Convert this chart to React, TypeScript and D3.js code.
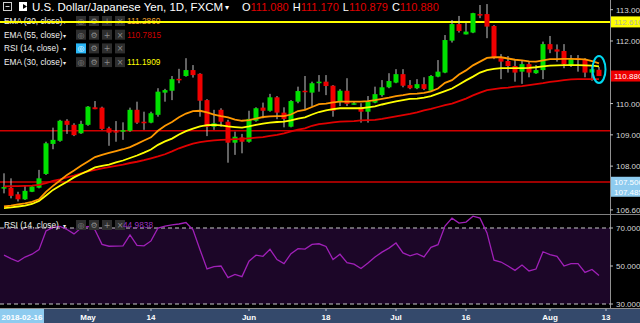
import React from "react";
import * as d3 from "d3";

const W = 640;
const H = 323;

// trading days shown (weekdays) Apr 13 2018 .. Aug 13 2018
const START_DATE = "2018-04-13";
const END_DATE = "2018-08-13";

const openP = [107.31,107.31,107.10,106.94,107.18,107.31,107.75,108.71,108.81,109.45,109.32,109.05,109.32,109.88,109.87,109.21,109.12,109.10,109.13,109.80,109.42,109.39,109.64,110.35,110.41,110.79,110.88,111.07,110.95,110.11,109.26,109.80,109.42,108.75,108.92,108.78,109.45,109.87,109.77,110.20,109.71,109.26,110.06,110.41,110.35,110.65,110.70,110.57,110.06,110.41,109.98,109.88,109.74,110.03,110.27,110.52,110.67,110.94,110.59,110.49,110.62,110.41,110.86,110.99,112.01,112.54,112.21,112.27,112.86,112.86,112.48,111.45,111.36,111.20,111.02,111.26,110.97,111.07,111.90,111.73,111.68,111.23,111.45,111.42,110.99,111.08];
const highP = [107.77,107.61,107.18,107.37,107.37,107.88,108.78,109.23,109.48,109.50,109.37,109.45,109.92,110.08,109.90,109.26,109.44,109.40,109.87,110.06,109.74,109.74,110.49,110.47,110.88,111.11,111.45,111.23,110.97,110.14,109.80,109.85,109.48,109.10,109.03,109.77,109.88,110.03,110.31,110.24,109.88,110.11,110.54,110.88,110.70,110.91,110.91,110.59,110.46,110.81,110.06,110.01,110.24,110.54,110.75,110.97,111.10,111.10,110.75,110.78,110.84,110.91,111.39,112.19,112.67,112.80,112.58,112.90,113.15,113.18,112.51,111.58,111.52,111.42,111.39,111.34,111.23,111.98,112.16,111.89,111.90,111.55,111.55,111.45,111.21,111.17];
const lowP = [107.13,106.97,106.87,106.92,107.17,107.29,107.72,108.54,108.78,109.03,108.96,109.03,109.29,109.82,109.16,108.65,108.78,108.84,109.10,109.35,109.16,109.37,109.58,110.06,110.11,110.65,110.86,110.83,109.58,108.96,109.16,109.26,108.11,108.36,108.41,108.75,109.42,109.53,109.74,109.50,109.24,109.24,110.01,109.80,109.90,110.38,110.27,109.58,109.92,109.92,109.96,109.39,109.39,110.01,110.22,110.49,110.65,110.52,110.46,110.46,110.43,110.38,110.84,110.97,111.95,112.27,112.21,112.25,112.73,112.09,111.42,110.78,110.99,110.70,110.63,110.84,110.95,110.78,111.61,111.34,111.13,111.17,111.02,110.84,110.73,110.879];
const closeP = [107.33,107.05,106.94,107.21,107.35,107.61,108.73,108.84,109.45,109.32,108.99,109.35,109.90,109.82,109.19,109.07,109.10,109.15,109.80,109.39,109.37,109.69,110.38,110.43,110.78,110.76,111.07,110.91,110.09,109.26,109.37,109.42,108.75,108.94,108.78,109.51,109.85,109.77,110.20,109.71,109.51,110.08,110.40,110.38,110.65,110.70,110.56,109.77,110.41,109.99,110.01,109.74,110.06,110.30,110.52,110.72,110.94,110.57,110.49,110.62,110.47,110.88,111.02,112.03,112.54,112.32,112.30,112.89,112.83,112.46,111.45,111.34,111.20,110.99,111.26,110.99,111.07,111.90,111.73,111.66,111.26,111.42,111.39,110.99,111.10,110.88];

const ema20 = [106.71,106.74,106.78,106.81,106.86,106.94,107.18,107.37,107.54,107.72,107.86,108.01,108.15,108.29,108.36,108.42,108.48,108.54,108.61,108.71,108.82,108.92,109.13,109.29,109.41,109.56,109.68,109.76,109.77,109.72,109.65,109.60,109.56,109.49,109.45,109.47,109.52,109.57,109.59,109.60,109.60,109.65,109.76,109.80,109.89,109.98,110.00,110.04,110.06,110.06,110.06,110.06,110.08,110.11,110.15,110.19,110.24,110.27,110.31,110.32,110.34,110.39,110.48,110.66,110.75,110.93,111.06,111.22,111.34,111.46,111.48,111.48,111.44,111.40,111.38,111.35,111.34,111.38,111.42,111.42,111.43,111.43,111.42,111.41,111.36,111.286];
const ema30 = [106.66,106.68,106.71,106.74,106.79,106.89,107.06,107.24,107.37,107.50,107.64,107.75,107.85,107.96,108.01,108.05,108.12,108.18,108.26,108.34,108.43,108.53,108.68,108.79,108.88,109.01,109.12,109.20,109.27,109.31,109.32,109.30,109.27,109.25,109.23,109.27,109.32,109.36,109.39,109.41,109.42,109.46,109.52,109.56,109.65,109.73,109.78,109.82,109.85,109.85,109.85,109.85,109.88,109.91,109.97,110.02,110.07,110.11,110.15,110.16,110.19,110.24,110.32,110.40,110.48,110.61,110.74,110.86,110.99,111.07,111.11,111.13,111.13,111.13,111.13,111.14,111.16,111.19,111.21,111.22,111.23,111.23,111.23,111.22,111.21,111.191];
const ema55 = [107.35,107.36,107.36,107.37,107.38,107.40,107.46,107.53,107.58,107.64,107.70,107.77,107.83,107.88,107.93,107.97,108.01,108.05,108.10,108.14,108.19,108.25,108.31,108.38,108.47,108.57,108.65,108.72,108.77,108.80,108.82,108.84,108.85,108.86,108.87,108.89,108.91,108.93,108.97,109.00,109.05,109.11,109.17,109.21,109.29,109.34,109.37,109.40,109.42,109.43,109.44,109.46,109.47,109.48,109.51,109.55,109.59,109.63,109.67,109.72,109.78,109.83,109.89,109.95,110.00,110.08,110.16,110.26,110.35,110.43,110.46,110.49,110.51,110.54,110.56,110.59,110.62,110.65,110.69,110.72,110.75,110.77,110.78,110.78,110.78,110.78];
const rsi14 = [55.7,53.9,52.3,54.7,56.2,58.6,68.4,70.3,70.8,69.2,66.9,70.0,70.8,69.0,61.4,60.4,60.5,60.6,66.4,60.9,60.6,63.2,70.0,71.0,71.6,72.1,72.9,69.0,58.6,48.5,49.7,50.0,43.9,45.6,44.4,52.5,55.7,55.1,58.8,53.4,51.3,56.5,59.1,58.9,61.4,61.7,60.3,53.4,56.2,51.8,51.0,48.7,51.6,54.7,57.3,59.4,62.1,56.9,55.3,56.5,54.8,59.8,61.2,71.0,75.2,72.6,73.1,76.2,75.2,67.4,53.1,52.1,50.0,47.7,50.5,47.4,48.4,57.5,56.0,55.1,50.0,51.3,51.3,46.6,48.2,44.98];

// visible price-axis tick labels (111 and 107 sit under the price / level boxes)
const priceTicks = [113, 112, 110, 109, 108, 106.6];
const rsiTicks = [70, 50, 30];
const dateTickKeys = ["2018-05-01", "2018-05-14", "2018-06-01", "2018-06-18", "2018-07-02", "2018-07-16", "2018-08-01", "2018-08-13"];
const dateTickLabels = ["May", "14", "Jun", "18", "Jul", "16", "Aug", "13"];

const levelValues = [112.61, 109.13, 107.49];
const levelColors = ["#ffff00", "#d00000", "#d00000"];

const headerOHLC = ["111.080", "111.170", "110.879", "110.880"];
const legendNames = ["EMA (20, close)", "EMA (55, close)", "RSI (14, close)", "EMA (30, close)"];
const legendValues = ["111.2860", "110.7815", "", "111.1909"];
const legendColors = ["#f0a030", "#cc0000", "", "#ffff00"];
const rsiValueText = "44.9838";

const FONT = "'Liberation Sans', Arial, sans-serif";

function Icons({ x, y, active }: { x: number; y: number; active?: boolean }) {
  const glyphs = ["◎", "⚙", "+", "×"];
  return (
    <g>
      {glyphs.map((g, i) => (
        <g key={i} transform={`translate(${x + i * 13},${y})`}>
          <rect x={0} y={-5} width={10} height={10} fill={active && i === 0 ? "#29b6f6" : "#2e2e2e"} />
          <text x={5} y={3} fontSize={8} textAnchor="middle" fill={active && i === 0 ? "#ffffff" : "#8a8a8a"} fontFamily="'DejaVu Sans', sans-serif">
            {g}
          </text>
        </g>
      ))}
    </g>
  );
}

export default function App() {
  const fmt = d3.timeFormat("%Y-%m-%d");
  const parse = d3.timeParse("%Y-%m-%d");
  const days = d3.timeDay
    .range(parse(START_DATE)!, d3.timeDay.offset(parse(END_DATE)!, 1))
    .filter((d) => d.getDay() !== 0 && d.getDay() !== 6);
  const keys = days.map(fmt);

  const plotRight = 610;
  const priceBottom = 214;
  const x = d3.scalePoint<string>().domain(keys).range([4, 606]);
  const y = d3.scaleLinear().domain([106.47, 113.31]).range([priceBottom, 0]);
  const yr = d3.scaleLinear().domain([30, 70]).range([304, 228]);

  const xi = (i: number) => x(keys[i]) as number;
  const line = d3.line<number>().x((_, i) => xi(i)).y((d) => y(d));
  const rsiLine = d3.line<number>().x((_, i) => xi(i)).y((d) => yr(d));

  const bodyW = 5;

  return (
    <svg width={W} height={H} style={{ position: "fixed", left: 0, top: 0, background: "#000" }} fontFamily={FONT}>
      <defs>
        <clipPath id="pricePane">
          <rect x={0} y={0} width={plotRight} height={priceBottom} />
        </clipPath>
        <clipPath id="rsiPane">
          <rect x={0} y={priceBottom + 1} width={plotRight} height={308 - priceBottom - 1} />
        </clipPath>
      </defs>
      <rect x={0} y={0} width={W} height={H} fill="#000" />

      {/* RSI pane band */}
      <rect x={0} y={yr(70)} width={plotRight} height={yr(30) - yr(70)} fill="#1c0628" />

      {/* header */}
      <g>
        <rect x={3.5} y={2.5} width={8} height={8} fill="none" stroke="#d0d0d0" strokeWidth={1} />
        <line x1={5.5} x2={9.5} y1={6.5} y2={6.5} stroke="#d0d0d0" />
        <rect x={19} y={2} width={8} height={9} fill="#ffffff" />
        <path d="M23,4 L27,6.5 L23,9 Z" fill="#000" />
        <text x={32} y={10.5} fontSize={11.5} fill="#ffffff">
          U.S. Dollar/Japanese Yen, 1D, FXCM
        </text>
        <text x={225} y={10} fontSize={8} fill="#ffffff" fontFamily="'DejaVu Sans', sans-serif">▾</text>
        <text x={242} y={10.5} fontSize={11} fill="#ffffff">
          O<tspan fill="#e00000">{headerOHLC[0]}</tspan>
          <tspan dx={4}>H</tspan><tspan fill="#e00000">{headerOHLC[1]}</tspan>
          <tspan dx={4}>L</tspan><tspan fill="#e00000">{headerOHLC[2]}</tspan>
          <tspan dx={4}>C</tspan><tspan fill="#e00000">{headerOHLC[3]}</tspan>
        </text>
      </g>

      {/* legend */}
      {legendNames.map((n, i) => {
        const ly = 21 + i * 13.7;
        return (
          <g key={n}>
            <text x={4} y={ly + 3} fontSize={8.3} fill="#f0f0f0">{n}</text>
            <text x={63} y={ly + 3} fontSize={6} fill="#f0f0f0" fontFamily="'DejaVu Sans', sans-serif">▾</text>
            <Icons x={76} y={ly} active={i === 2} />
            {legendValues[i] && (
              <text x={127} y={ly + 3} fontSize={8.3} fill={legendColors[i]}>{legendValues[i]}</text>
            )}
          </g>
        );
      })}

      {/* price pane */}
      <g clipPath="url(#pricePane)">
        {levelValues.map((v, i) => (
          <line key={i} x1={0} x2={plotRight} y1={y(v)} y2={y(v)} stroke={levelColors[i]} strokeWidth={i === 0 ? 2 : 1.5} />
        ))}
        {openP.map((o, i) => {
          const c = closeP[i];
          const up = c >= o;
          const cx = xi(i);
          const top = y(Math.max(o, c));
          const bot = y(Math.min(o, c));
          return (
            <g key={i}>
              <line x1={cx} x2={cx} y1={y(highP[i])} y2={y(lowP[i])} stroke="#c4c4c4" strokeWidth={1} />
              <rect x={cx - bodyW / 2} y={top} width={bodyW} height={Math.max(1.5, bot - top)} fill={up ? "#00e000" : "#f00000"} />
            </g>
          );
        })}
        <path d={line(ema55) || ""} fill="none" stroke="#e00000" strokeWidth={1.8} />
        <path d={line(ema30) || ""} fill="none" stroke="#ffff00" strokeWidth={1.8} />
        <path d={line(ema20) || ""} fill="none" stroke="#ff9800" strokeWidth={1.8} />
        <ellipse cx={xi(85)} cy={y((highP[85] + lowP[85]) / 2) - 2} rx={6.5} ry={13.5} fill="none" stroke="#00d8f0" strokeWidth={2} />
      </g>

      {/* RSI pane */}
      <g clipPath="url(#rsiPane)">
        {[70, 30].map((v) => (
          <line key={v} x1={0} x2={plotRight} y1={yr(v)} y2={yr(v)} stroke="#c8c8c8" strokeWidth={1} strokeDasharray="4,3" />
        ))}
        <path d={rsiLine(rsi14) || ""} fill="none" stroke="#a020b8" strokeWidth={1.3} />
      </g>
      <g>
        <text x={4} y={228} fontSize={8.3} fill="#f0f0f0">RSI (14, close)</text>
        <text x={63} y={228} fontSize={6} fill="#f0f0f0" fontFamily="'DejaVu Sans', sans-serif">▾</text>
        <Icons x={76} y={225} />
        <text x={123} y={228} fontSize={8.3} fill="#9b30c0">{rsiValueText}</text>
      </g>

      {/* separators */}
      <line x1={0} x2={W} y1={priceBottom + 0.5} y2={priceBottom + 0.5} stroke="#808080" strokeWidth={1} />
      <line x1={plotRight + 0.5} x2={plotRight + 0.5} y1={0} y2={309} stroke="#909090" strokeWidth={1} />

      {/* price axis */}
      {priceTicks.map((t) => (
        <g key={t}>
          <line x1={plotRight} x2={plotRight + 3} y1={y(t)} y2={y(t)} stroke="#c0c0c0" />
          <text x={616} y={y(t) + 3} fontSize={8} fill="#d8d8d8">{t.toFixed(3)}</text>
        </g>
      ))}
      {/* level labels */}
      <rect x={611} y={y(112.61) - 5.5} width={29} height={11} fill="#ffff00" />
      <text x={614} y={y(112.61) + 3} fontSize={8} fill="#b0b0a0">112.610</text>
      <rect x={611} y={y(110.88) - 5.5} width={29} height={11} fill="#ee0000" />
      <text x={614} y={y(110.88) + 3} fontSize={8} fill="#ffffff">110.880</text>
      <rect x={611} y={y(107.5) - 5} width={29} height={20} fill="#8ecbef" />
      <text x={614} y={y(107.5) + 3} fontSize={8} fill="#ffffff">107.500</text>
      <text x={614} y={y(107.5) + 13} fontSize={8} fill="#ffffff">107.485</text>

      {/* rsi axis */}
      {rsiTicks.map((t) => (
        <g key={t}>
          <line x1={plotRight} x2={plotRight + 3} y1={yr(t)} y2={yr(t)} stroke="#c0c0c0" />
          <text x={616} y={yr(t) + 3} fontSize={8} fill="#d8d8d8">{t.toFixed(4)}</text>
        </g>
      ))}

      {/* x axis */}
      <line x1={0} x2={W} y1={308.5} y2={308.5} stroke="#909090" />
      <rect x={0} y={309} width={W} height={14} fill="#34496b" />
      {dateTickKeys.map((k, i) => (
        <g key={k}>
          <line x1={x(k)} x2={x(k)} y1={309} y2={311} stroke="#c0c8d8" />
          <text x={x(k)} y={319.5} fontSize={8} fontWeight="bold" textAnchor="middle" fill="#ffffff">{dateTickLabels[i]}</text>
        </g>
      ))}
      <rect x={0} y={309} width={44} height={14} fill="#8ecbef" />
      <text x={22} y={319.5} fontSize={8} fontWeight="bold" textAnchor="middle" fill="#ffffff">2018-02-16</text>
    </svg>
  );
}
